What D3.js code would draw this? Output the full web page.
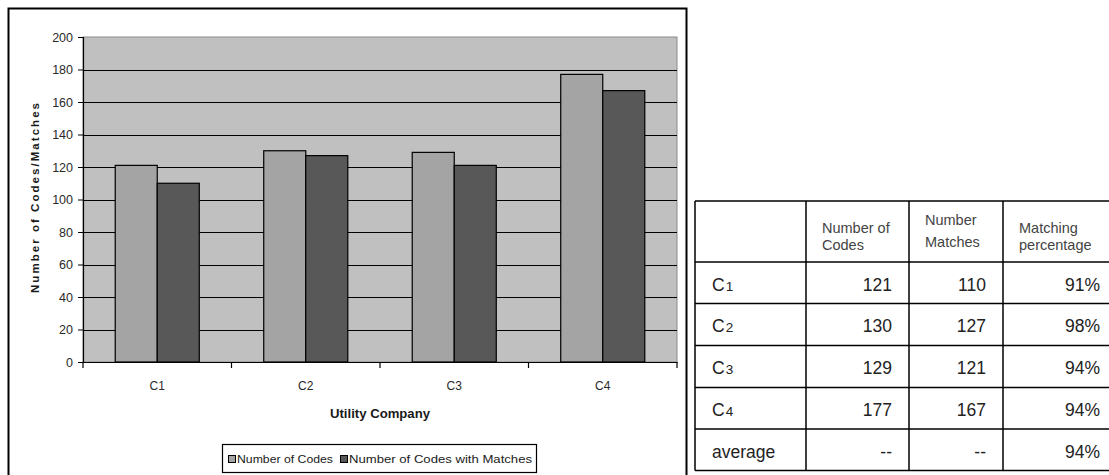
<!DOCTYPE html>
<html>
<head>
<meta charset="utf-8">
<script src="https://cdn.jsdelivr.net/npm/d3@7"></script>
<style>
  html, body { margin: 0; padding: 0; background: #fff; }
  svg { display: block; font-family: "Liberation Sans", Arial, sans-serif; }
</style>
</head>
<body>
<svg id="chart" width="1109" height="475"></svg>
<script>
// ---- data ----
const categories = ["C1", "C2", "C3", "C4"];
const seriesNames = ["Number of Codes", "Number of Codes with Matches"];
const codes = [121, 130, 129, 177];
const matches = [110, 127, 121, 167];
const yTicks = [0, 20, 40, 60, 80, 100, 120, 140, 160, 180, 200];
const percentages = [91, 98, 94, 94];
const averagePct = 94;
const tableHeaders = [["Number of", "Codes"], ["Number", "Matches"], ["Matching", "percentage"]];
const averageLabel = "average";
const xTitle = "Utility Company";
const yTitle = "Number of Codes/Matches";

const colors = ["#a4a4a4", "#585858"];

const svg = d3.select("#chart");

// outer chart frame
svg.append("rect").attr("x", 8.5).attr("y", 8.5).attr("width", 678).attr("height", 480)
  .attr("fill", "none").attr("stroke", "#000").attr("stroke-width", 2);

// plot scales
const plot = { x0: 83, x1: 677, y0: 362, y1: 37 };
const x = d3.scaleBand().domain(categories).range([plot.x0, plot.x1]).paddingInner(0.434).paddingOuter(0.217);
const xs = d3.scaleBand().domain([0, 1]).range([0, x.bandwidth()]);
const y = d3.scaleLinear().domain([0, 200]).range([plot.y0, plot.y1]);

// plot background
svg.append("rect").attr("x", plot.x0).attr("y", y(200)).attr("width", plot.x1 - plot.x0)
  .attr("height", y(0) - y(200)).attr("fill", "#c0c0c0").attr("stroke", "#8a8a8a").attr("stroke-width", 1);

// gridlines
svg.append("g").selectAll("line").data(yTicks.filter(t => t > 0 && t < 200)).join("line")
  .attr("x1", plot.x0).attr("x2", plot.x1)
  .attr("y1", d => Math.round(y(d)) + 0.5).attr("y2", d => Math.round(y(d)) + 0.5)
  .attr("stroke", "#000").attr("stroke-width", 1);

// bars
const groups = svg.append("g").selectAll("g").data(categories).join("g")
  .attr("transform", d => `translate(${x(d)},0)`);
groups.selectAll("rect").data((d, i) => [codes[i], matches[i]]).join("rect")
  .attr("x", (d, j) => xs(j)).attr("width", xs.bandwidth())
  .attr("y", d => y(d)).attr("height", d => y(0) - y(d))
  .attr("fill", (d, j) => colors[j]).attr("stroke", "#000").attr("stroke-width", 1.2);

// y axis
const yAxis = d3.axisLeft(y).tickValues(yTicks).tickSize(5).tickPadding(5);
const gy = svg.append("g").attr("transform", `translate(${plot.x0},0)`).call(yAxis);
gy.select(".domain").attr("stroke", "#000").attr("stroke-width", 1.2);
gy.selectAll(".tick line").attr("stroke", "#000");
gy.selectAll(".tick text").attr("font-size", 12.5).attr("fill", "#2a2a2a")
  .attr("font-family", "'Liberation Sans', Arial, sans-serif");

// x axis
const xAxis = d3.axisBottom(x).tickSize(0).tickPadding(19);
const gx = svg.append("g").attr("transform", `translate(0,${plot.y0})`).call(xAxis);
gx.select(".domain").attr("stroke", "#000").attr("stroke-width", 1.2);
gx.selectAll(".tick text").attr("font-size", 12).attr("fill", "#2a2a2a")
  .attr("font-family", "'Liberation Sans', Arial, sans-serif");
// category boundary ticks
const bounds = categories.map(c => x(c) - x.step() * x.paddingOuter()).concat([plot.x1]);
gx.append("g").selectAll("line").data(bounds).join("line")
  .attr("x1", d => d).attr("x2", d => d).attr("y1", 0).attr("y2", 6)
  .attr("stroke", "#000").attr("stroke-width", 1.2);

// axis titles
svg.append("text").attr("x", (plot.x0 + plot.x1) / 2).attr("y", 418)
  .attr("text-anchor", "middle").attr("font-size", 12).attr("font-weight", "bold")
  .attr("fill", "#1a1a1a").attr("textLength", 100).attr("lengthAdjust", "spacingAndGlyphs")
  .text(xTitle);
svg.append("text").attr("transform", "translate(39,198) rotate(-90)")
  .attr("text-anchor", "middle").attr("font-size", 11.5).attr("font-weight", "bold")
  .attr("fill", "#1a1a1a").attr("textLength", 190).attr("lengthAdjust", "spacing")
  .text(yTitle);

// legend
const lg = svg.append("g");
lg.append("rect").attr("x", 222.5).attr("y", 444.5).attr("width", 314).attr("height", 28)
  .attr("fill", "#fff").attr("stroke", "#000").attr("stroke-width", 1.2);
const legendItems = [
  { sx: 228, tx: 237, len: 96 },
  { sx: 340, tx: 349, len: 183 }
];
legendItems.forEach((it, i) => {
  lg.append("rect").attr("x", it.sx + 0.5).attr("y", 455.5).attr("width", 7).attr("height", 7)
    .attr("fill", colors[i]).attr("stroke", "#000").attr("stroke-width", 1);
  lg.append("text").attr("x", it.tx).attr("y", 462.5).attr("font-size", 11)
    .attr("fill", "#1a1a1a").attr("textLength", it.len).attr("lengthAdjust", "spacingAndGlyphs")
    .text(seriesNames[i]);
});

// ---- table ----
const tbl = svg.append("g");
const colX = [695, 806, 909, 1003, 1117];
const rowY = [201, 262, 303.5, 345.5, 387.5, 429, 470.5];
const fmtPct = d => d + "%";

// borders
tbl.selectAll("line.h").data(rowY).join("line").attr("class", "h")
  .attr("x1", colX[0]).attr("x2", colX[4]).attr("y1", d => d).attr("y2", d => d)
  .attr("stroke", "#000").attr("stroke-width", 1.5);
tbl.selectAll("line.v").data(colX).join("line").attr("class", "v")
  .attr("x1", d => d).attr("x2", d => d).attr("y1", rowY[0]).attr("y2", rowY[6])
  .attr("stroke", "#000").attr("stroke-width", 1.5);

// header
const headerBaselines = [[232.7, 250], [225, 246.7], [233, 250]];
tableHeaders.forEach((lines, c) => {
  lines.forEach((ln, k) => {
    tbl.append("text").attr("x", colX[c + 1] + 16).attr("y", headerBaselines[c][k])
      .attr("font-size", 14.5).attr("fill", "#444").text(ln);
  });
});

// body rows
const rows = categories.map((c, i) => ({
  label: c, values: [String(codes[i]), String(matches[i]), fmtPct(percentages[i])]
}));
rows.push({ label: averageLabel, values: ["--", "--", fmtPct(averagePct)] });

rows.forEach((r, i) => {
  const base = rowY[i + 1] + 28.5;
  const t = tbl.append("text").attr("x", colX[0] + 17).attr("y", base)
    .attr("font-size", 17.5).attr("fill", "#222");
  if (r.label === averageLabel) {
    t.text(r.label);
  } else {
    t.append("tspan").text(r.label.slice(0, 1));
    t.append("tspan").attr("font-size", 13.5).attr("dx", 1).text(r.label.slice(1));
  }
  r.values.forEach((v, c) => {
    tbl.append("text").attr("x", colX[c + 2] - 17).attr("y", base)
      .attr("text-anchor", "end").attr("font-size", 17.5).attr("fill", "#222").text(v);
  });
});
</script>
</body>
</html>
